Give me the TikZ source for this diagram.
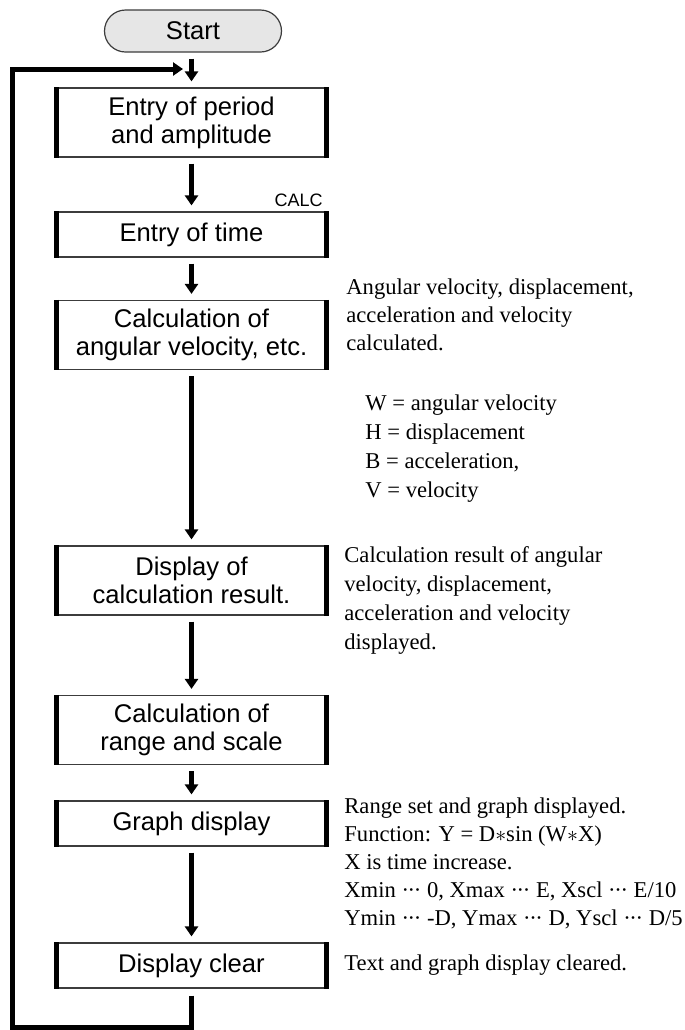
\documentclass[tikz,border=0pt]{standalone}
\usepackage{fontspec}
\setmainfont{Liberation Serif}
\setsansfont{Liberation Sans}
\usepackage{tikz}
\usetikzlibrary{arrows.meta,positioning}
\definecolor{startgray}{RGB}{230,230,230}
\definecolor{edgegray}{RGB}{60,60,60}
\newcommand{\tdots}{\textperiodcentered\kern-0.06em\textperiodcentered\kern-0.06em\textperiodcentered}

\tikzset{
    procbox/.style={draw=edgegray, line width=0.6pt, minimum width=134pt, inner sep=0pt,
        align=center, font=\sffamily\fontsize{12.8}{14}\selectfont},
    twoline/.style={procbox, minimum height=34.5pt},
    oneline/.style={procbox, minimum height=22.5pt},
    sidebar/.style={line width=2.5pt},
    flow/.style={line width=2.5pt, -{Triangle[width=6.5pt,length=5pt]}, shorten <=3pt, shorten >=3pt},
    loopline/.style={line width=2.5pt, line join=miter, -{Triangle[width=6.5pt,length=5pt]}, shorten <=3.5pt},
    note/.style={anchor=base west, inner sep=0pt, align=left, font=\fontsize{11.3}{14}\selectfont},
    widenote/.style={note, font=\fontsize{11.3}{14.5}\selectfont}
}

\begin{document}
\begin{tikzpicture}[x=0.5pt, y=-0.5pt]
    \useasboundingbox (0,0) rectangle (685,1030);

    \node[draw=edgegray, fill=startgray, line width=0.6pt, rounded corners=10.5pt,
        minimum width=88.5pt, minimum height=21pt, inner sep=0pt,
        font=\sffamily\fontsize{12.8}{14}\selectfont] (start) at (193,31) {Start};

    \node[twoline] (entry)  at (191.5,122.5) {Entry of period\\and amplitude};
    \node[oneline] (time)   at (191.5,234.5) {Entry of time};
    \node[twoline] (calc)   at (191.5,335)   {Calculation of\\angular velocity, etc.};
    \node[twoline] (result) at (191.5,580.5) {Display of\\calculation result.};
    \node[twoline] (range)  at (191.5,730)   {Calculation of\\range and scale};
    \node[oneline] (graph)  at (191.5,823.5) {Graph display};
    \node[oneline] (clear)  at (191.5,965.5) {Display clear};

    \foreach \n in {entry,time,calc,result,range,graph,clear}
        \draw[sidebar] (\n.north west) -- (\n.south west) (\n.north east) -- (\n.south east);

    \node[anchor=east, inner sep=0pt, font=\sffamily\fontsize{9}{10}\selectfont] (calckey) at (323,200) {CALC};

    \draw[flow] (start.south -| time.north) -- (entry);
    \draw[flow] (entry) -- (time);
    \draw[flow] (time) -- (calc);
    \draw[flow] (calc) -- (result);
    \draw[flow] (result) -- (range);
    \draw[flow] (range) -- (graph);
    \draw[flow] (graph) -- (clear);

    \coordinate (loopcorner) at (12.5,1027);
    \coordinate (looptip) at (183,69);
    \draw[loopline] (clear.south) |- (loopcorner) |- (looptip);

    \node[note] (calcnote) at (346,350) {Angular velocity, displacement,\\acceleration and velocity\\calculated.};
    \node[widenote] (symnote) at (365,497) {W = angular velocity\\H = displacement\\B = acceleration,\\V = velocity};
    \node[widenote] (resultnote) at (344,649) {Calculation result of angular\\velocity, displacement,\\acceleration and velocity\\displayed.};
    \node[note] (graphnote) at (344,925) {Range set and graph displayed.\\Function: Y = D$\ast$sin (W$\ast$X)\\X is time increase.\\Xmin \tdots{} 0, Xmax \tdots{} E, Xscl \tdots{} E/10\\Ymin \tdots{} -D, Ymax \tdots{} D, Yscl \tdots{} D/5};
    \node[note] (clearnote) at (344,970) {Text and graph display cleared.};
\end{tikzpicture}
\end{document}
